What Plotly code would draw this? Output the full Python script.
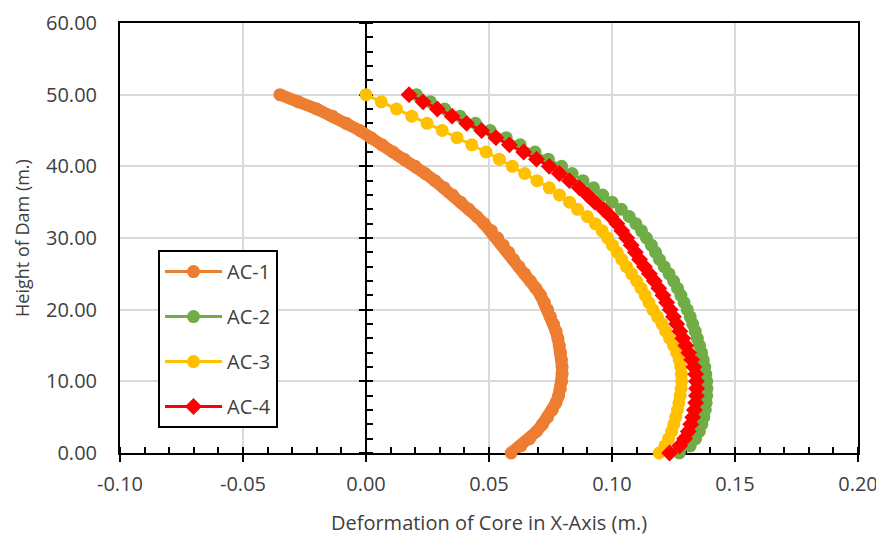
import plotly.graph_objects as go

# Heights of dam (m.)
heights = [0, 1, 2, 3, 4, 5, 6, 7, 8, 9, 10, 11, 12, 13, 14, 15, 16, 17, 18, 19, 20,
           21, 22, 23, 24, 25, 26, 27, 28, 29, 30, 31, 32, 33, 34, 35, 36, 37, 38, 39, 40,
           41, 42, 43, 44, 45, 46, 47, 48, 49, 50]

# Deformation of core in X-axis (m.)
ac1 = [0.0590, 0.0630, 0.0665, 0.0693, 0.0717, 0.0738, 0.0757, 0.0772, 0.0783, 0.0790, 0.0795,
       0.0797, 0.0797, 0.0795, 0.0791, 0.0786, 0.0780, 0.0772, 0.0762, 0.0750, 0.0738,
       0.0725, 0.0710, 0.0690, 0.0668, 0.0645, 0.0622, 0.0600, 0.0580, 0.0558, 0.0535,
       0.0510, 0.0480, 0.0450, 0.0418, 0.0385, 0.0352, 0.0318, 0.0280, 0.0240, 0.0200,
       0.0155, 0.0110, 0.0065, 0.0020, -0.0025, -0.0080, -0.0136, -0.0200, -0.0275, -0.0350]

ac2 = [0.1274, 0.1318, 0.1340, 0.1355, 0.1365, 0.1373, 0.1379, 0.1383, 0.1385, 0.1386, 0.1385,
       0.1381, 0.1377, 0.1371, 0.1364, 0.1356, 0.1347, 0.1338, 0.1328, 0.1318, 0.1306,
       0.1293, 0.1280, 0.1266, 0.1250, 0.1232, 0.1212, 0.1193, 0.1177, 0.1160, 0.1140,
       0.1120, 0.1097, 0.1070, 0.1038, 0.1000, 0.0962, 0.0925, 0.0882, 0.0838, 0.0795,
       0.0741, 0.0687, 0.0627, 0.0570, 0.0505, 0.0445, 0.0382, 0.0320, 0.0262, 0.0205]

ac3 = [0.1192, 0.1215, 0.1230, 0.1242, 0.1251, 0.1259, 0.1266, 0.1272, 0.1277, 0.1281, 0.1283,
       0.1282, 0.1279, 0.1273, 0.1263, 0.1250, 0.1234, 0.1218, 0.1203, 0.1185, 0.1166,
       0.1150, 0.1135, 0.1118, 0.1100, 0.1080, 0.1059, 0.1040, 0.1021, 0.1002, 0.0982,
       0.0960, 0.0932, 0.0900, 0.0860, 0.0827, 0.0786, 0.0745, 0.0695, 0.0645, 0.0595,
       0.0542, 0.0488, 0.0430, 0.0370, 0.0310, 0.0248, 0.0186, 0.0124, 0.0062, 0.0000]

ac4 = [0.1234, 0.1275, 0.1295, 0.1310, 0.1320, 0.1328, 0.1335, 0.1340, 0.1343, 0.1344, 0.1343,
       0.1340, 0.1333, 0.1324, 0.1312, 0.1300, 0.1288, 0.1276, 0.1263, 0.1250, 0.1237,
       0.1222, 0.1207, 0.1190, 0.1172, 0.1152, 0.1132, 0.1112, 0.1095, 0.1078, 0.1060,
       0.1040, 0.1020, 0.0995, 0.0965, 0.0930, 0.0900, 0.0867, 0.0827, 0.0786, 0.0745,
       0.0693, 0.0641, 0.0583, 0.0528, 0.0470, 0.0409, 0.0350, 0.0290, 0.0232, 0.0175]

series_names = ["AC-1", "AC-2", "AC-3", "AC-4"]

x_ticks = [-0.10, -0.05, 0.00, 0.05, 0.10, 0.15, 0.20]
x_tick_text = ["-0.10", "-0.05", "0.00", "0.05", "0.10", "0.15", "0.20"]
y_ticks = [0, 10, 20, 30, 40, 50, 60]
y_tick_text = ["0.00", "10.00", "20.00", "30.00", "40.00", "50.00", "60.00"]

FONT = "Open Sans"
TXT = "#404040"
ORANGE = "#ED7D31"
GREEN = "#70AD47"
YELLOW = "#FFC000"
RED = "#FF0000"

fig = go.Figure()

# AC-1 continuous band (dense markers in the original)
fig.add_trace(go.Scatter(x=ac1, y=heights, mode="lines", line=dict(color=ORANGE, width=12),
                         showlegend=False, legendgroup="g1", hoverinfo="skip", cliponaxis=False))
fig.add_trace(go.Scatter(x=ac1, y=heights, name=series_names[0], mode="lines+markers",
                         line=dict(color=ORANGE, width=3), marker=dict(color=ORANGE, size=13, symbol="circle"),
                         legendgroup="g1", cliponaxis=False))
fig.add_trace(go.Scatter(x=ac2, y=heights, name=series_names[1], mode="lines+markers",
                         line=dict(color=GREEN, width=3), marker=dict(color=GREEN, size=13, symbol="circle"),
                         legendgroup="g2", cliponaxis=False))
fig.add_trace(go.Scatter(x=ac3, y=heights, name=series_names[2], mode="lines+markers",
                         line=dict(color=YELLOW, width=3), marker=dict(color=YELLOW, size=13, symbol="circle"),
                         legendgroup="g3", cliponaxis=False))
fig.add_trace(go.Scatter(x=ac4, y=heights, name=series_names[3], mode="lines+markers",
                         line=dict(color=RED, width=3), marker=dict(color=RED, size=13, symbol="diamond"),
                         legendgroup="g4", cliponaxis=False))

# invisible helper traces so that the overlay axes are drawn
for xa, ya in [("x2", "y"), ("x", "y2"), ("x", "y3")]:
    fig.add_trace(go.Scatter(x=ac1, y=heights, xaxis=xa, yaxis=ya, mode="markers",
                             marker=dict(opacity=0), showlegend=False, hoverinfo="skip"))

xrange_ = [-0.10, 0.20]
yrange_ = [0, 60]

# the page body adds an 8px offset, so the figure is 16px smaller than the window
fig.update_layout(
    width=876, height=528,
    margin=dict(l=112, r=26, t=15, b=83, autoexpand=False),
    paper_bgcolor="white", plot_bgcolor="white",
    font=dict(family=FONT, size=20, color=TXT),
    xaxis=dict(
        range=xrange_, tickvals=x_ticks, ticktext=x_tick_text, automargin=False,
        showgrid=True, gridcolor="#D9D9D9", gridwidth=2, zeroline=False,
        showline=True, linecolor="black", linewidth=2, mirror=True,
        ticks="outside", ticklen=7, tickwidth=2, tickcolor="black",
        minor=dict(dtick=0.01, tick0=0, ticks="inside", ticklen=6, tickwidth=2, tickcolor="black", showgrid=False),
        ticklabelstandoff=5, tickfont=dict(family=FONT, size=20, color=TXT),
        title=dict(text="Deformation of Core in X-Axis (m.)", font=dict(family=FONT, size=20, color=TXT), standoff=20),
        layer="below traces",
    ),
    xaxis2=dict(
        range=xrange_, overlaying="x", anchor="y", side="bottom", tickvals=x_ticks, automargin=False,
        showticklabels=False, showgrid=False, zeroline=False, showline=False,
        ticks="inside", ticklen=6, tickwidth=2, tickcolor="black", layer="below traces",
    ),
    yaxis=dict(
        range=yrange_, tickvals=y_ticks, ticktext=y_tick_text, automargin=False,
        showgrid=True, gridcolor="#D9D9D9", gridwidth=2, zeroline=False,
        showline=True, linecolor="black", linewidth=2, mirror=True, ticks="",
        ticklabelstandoff=17, tickfont=dict(family=FONT, size=20, color=TXT),
        title=dict(text="Height of Dam (m.)", font=dict(family=FONT, size=18, color=TXT), standoff=12),
        layer="below traces",
    ),
    yaxis2=dict(
        range=yrange_, overlaying="y", anchor="free", position=1/3, side="left", automargin=False,
        tickvals=y_ticks, showticklabels=False, showgrid=False, zeroline=False,
        showline=True, linecolor="black", linewidth=2,
        ticks="outside", ticklen=6, tickwidth=2, tickcolor="black",
        minor=dict(dtick=2, tick0=0, ticks="inside", ticklen=6, tickwidth=2, tickcolor="black", showgrid=False),
        layer="below traces",
    ),
    yaxis3=dict(
        range=yrange_, overlaying="y", anchor="free", position=1/3, side="left", automargin=False,
        tickvals=y_ticks, showticklabels=False, showgrid=False, zeroline=False, showline=False,
        ticks="inside", ticklen=6, tickwidth=2, tickcolor="black", layer="below traces",
    ),
    legend=dict(
        x=0.0515, y=0.472, xanchor="left", yanchor="top",
        bgcolor="white", bordercolor="black", borderwidth=2,
        font=dict(family=FONT, size=20, color=TXT),
        tracegroupgap=16, itemwidth=57,
    ),
    showlegend=True,
)

fig.write_html("out.html")
